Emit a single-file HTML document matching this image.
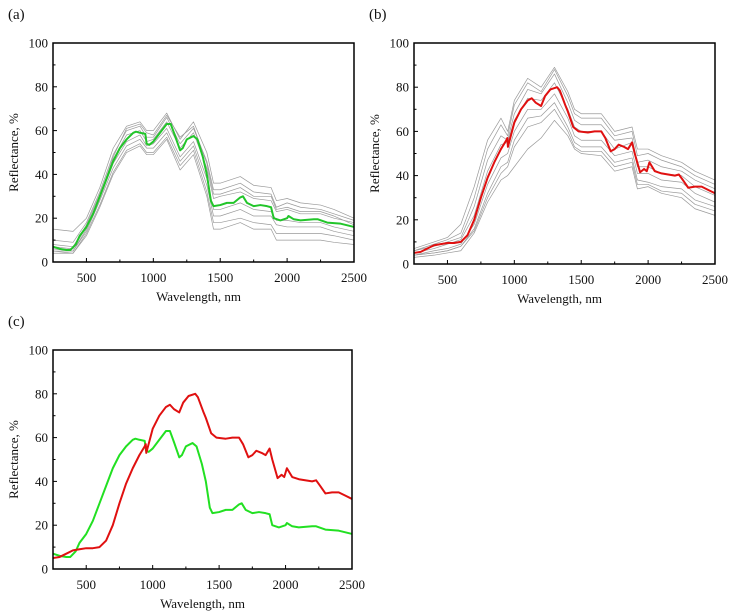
<!DOCTYPE html>
<html><head><meta charset="utf-8"><style>
html,body{margin:0;padding:0;background:#fff;width:734px;height:613px;overflow:hidden}
svg text{font-family:"Liberation Serif",serif;fill:#111}
</style></head><body>
<svg id="fig" width="734" height="613" viewBox="0 0 734 613"></svg>
<script>
// shared grid for gray sample spectra
const grid = [250,400,500,600,700,800,900,950,1000,1100,1200,1300,1400,1450,1500,1650,1750,1880,1920,2000,2100,2250,2350,2500];
// mean spectrum A (green)
const wlA = [250,300,350,380,420,450,500,550,600,650,700,750,800,850,870,900,940,950,970,1000,1050,1100,1130,1160,1200,1220,1250,1300,1330,1370,1400,1430,1450,1500,1550,1600,1650,1670,1700,1750,1800,1850,1880,1900,1950,2000,2010,2050,2100,2200,2230,2300,2400,2500];
const meanA = [7,6,5.5,5.5,8,12,16,22,30,38,46,52,56,59,59.5,59,58.5,54,53.5,55,59,63,63,58,51,52,56,57.5,56,48,40,28,25.5,26,27,27,29.5,30,27,25.5,26,25.5,25,20,19,20,21,19.5,19,19.5,19.5,18,17.5,16];
// mean spectrum B (red)
const wlB = [250,300,350,400,450,500,550,600,650,700,750,800,850,900,940,948,952,1000,1050,1100,1130,1160,1200,1230,1270,1320,1340,1380,1400,1440,1480,1550,1600,1650,1680,1720,1750,1780,1820,1850,1880,1900,1940,1970,1990,2010,2050,2100,2200,2230,2260,2300,2350,2400,2450,2500];
const meanB = [5,5.5,7,8.5,9,9.5,9.5,10,13,20,30,39,46,52,56,57,53,64,70,74,75,73,71.5,76,79,80,78.5,72,69,62,60,59.5,60,60,57,51,52,54,53,52,55,50,41.5,43,42,46,42,41,40,40.5,38,34.5,35,35,33.5,32];
// gray sample spectra, panel a
const grayA1 = [15,14,20,34,52,62,64,60,60,68,56,64,50,36,36,39,35,34,28,29,27,26,24,20];
const grayA2 = [10,9,18,32,49,60,62,57,57,66,54,61,46,33,33,36,32,31,25,27,25,24,22,19];
const grayA3 = [8,7,17,31,47,58,60,55,56,64,52,59,43,29,30,32,29,28,23,24,22,22,20,18];
const grayA4 = [6,5,15,29,45,55,58,53,54,61,48,55,38,24,24,27,24,23,19,19,18,18,16,14];
const grayA5 = [5,5,14,28,43,53,56,52,52,59,46,53,35,21,21,24,21,21,17,16,16,16,14,12];
const grayA6 = [5,4,13,26,41,51,54,50,50,57,44,51,32,18,18,20,18,17,13,13,13,13,12,10];
const grayA7 = [4,4,12,25,40,50,53,49,49,56,42,49,30,15,15,18,15,15,10,10,10,10,9,8];
const grayA8 = [7,6,16,30,48,61,63,59,58,67,57,62,45,31,31,34,30,30,24,25,23,23,21,17];
// gray sample spectra, panel b
const grayB1 = [7,10,12,18,35,56,66,60,74,84,80,89,78,70,68,68,60,62,52,52,49,46,42,38];
const grayB2 = [6,9,11,14,30,52,63,58,72,82,78,88,76,68,66,66,58,60,49,50,47,44,40,36];
const grayB3 = [6,8,10,12,26,47,58,56,68,79,77,86,73,65,63,63,56,57,46,47,44,42,38,34];
const grayB4 = [5,7,9,11,22,42,54,55,65,75,74,82,70,62,60,60,52,55,44,44,41,40,35,31];
const grayB5 = [4,6,7,9,18,36,48,50,60,70,70,77,66,58,56,56,49,51,41,41,38,37,32,28];
const grayB6 = [4,5,6,8,16,32,44,46,56,66,67,73,62,55,53,53,46,48,38,37,35,34,29,26];
const grayB7 = [3,4,5,6,14,28,38,40,44,52,57,65,58,52,50,49,42,44,34,35,32,30,25,22];
const grayB8 = [4,5,6,8,15,30,41,44,53,62,64,70,60,53,51,51,44,46,36,36,33,32,27,24];
const grayA = [grayA1,grayA2,grayA3,grayA4,grayA5,grayA6,grayA7,grayA8];
const grayB = [grayB1,grayB2,grayB3,grayB4,grayB5,grayB6,grayB7,grayB8];
const xTicks = [500,1000,1500,2000,2500];
const yTicks = [0,20,40,60,80,100];

const NS = "http://www.w3.org/2000/svg";
const svg = document.getElementById('fig');
function mk(tag, attrs, parent){const e=document.createElementNS(NS,tag);for(const k in attrs)e.setAttribute(k,attrs[k]);(parent||svg).appendChild(e);return e;}

function panel(id, label, x0, x1, y0, y1, draw){
  const g = mk('g',{});
  
  
  const sx = v => x0 + (v-250)/(2500-250)*(x1-x0);
  const sy = v => y1 - v/100*(y1-y0);
  const lt = mk('text',{x:x0-45,y:y0-24,'font-size':15},g);
  lt.textContent = label;
  
  
  draw(g, sx, sy);
  const fr = mk('rect',{x:x0,y:y0,width:x1-x0,height:y1-y0,fill:'none',stroke:'#000','stroke-width':1.5},g);
  
  
  for(let v=250; v<=2500; v+=250){
    const major = v%500===0;
    mk('line',{x1:sx(v),x2:sx(v),y1:y1,y2:y1-(major?4:2.5),stroke:'#000','stroke-width':1},g);
  }
  xTicks.forEach(v=>{
    const t = mk('text',{x:sx(v),y:y1+20,'font-size':13,'text-anchor':'middle'},g);
    t.textContent = v;
    
    
  });
  for(let v=0; v<=100; v+=10){
    const major = v%20===0;
    mk('line',{x1:x0,x2:x0+(major?4:2.5),y1:sy(v),y2:sy(v),stroke:'#000','stroke-width':1},g);
  }
  yTicks.forEach(v=>{
    const t = mk('text',{x:x0-5,y:sy(v)+4.5,'font-size':13,'text-anchor':'end'},g);
    t.textContent = v;
    
    
  });
  const xt = mk('text',{x:(x0+x1)/2+(id==='c'?0:-5),y:y1+39,'font-size':13,'text-anchor':'middle'},g);
  xt.textContent = 'Wavelength, nm';
  
  
  const yc = (y0+y1)/2;
  const yx = x0-35;
  const yt = mk('text',{x:yx,y:yc,'font-size':13,'text-anchor':'middle',transform:`rotate(-90 ${yx} ${yc})`},g);
  yt.textContent = 'Reflectance, %';
  
  
}
function line(g, xs, ys, sx, sy, color, w, name){
  const p = mk('polyline',{points:xs.map((x,i)=>sx(x)+','+sy(ys[i])).join(' '),fill:'none',stroke:color,'stroke-width':w,'stroke-linejoin':'round'},g);
  
  
}
panel('a','(a)',53,354,43,262,(g,sx,sy)=>{
  grayA.forEach(c=>line(g,grid,c,sx,sy,'#9a9a9a',0.7,'sample-spectrum'));
  line(g,wlA,meanA,sx,sy,'#22c52a',2,'mean-spectrum-a');
});
panel('b','(b)',414,715,43,264,(g,sx,sy)=>{
  grayB.forEach(c=>line(g,grid,c,sx,sy,'#9a9a9a',0.7,'sample-spectrum'));
  line(g,wlB,meanB,sx,sy,'#e01010',2,'mean-spectrum-b');
});
panel('c','(c)',53,352,350,569,(g,sx,sy)=>{
  line(g,wlA,meanA,sx,sy,'#22e022',2,'mean-spectrum-a');
  line(g,wlB,meanB,sx,sy,'#e01010',2,'mean-spectrum-b');
});
</script>
</body></html>
